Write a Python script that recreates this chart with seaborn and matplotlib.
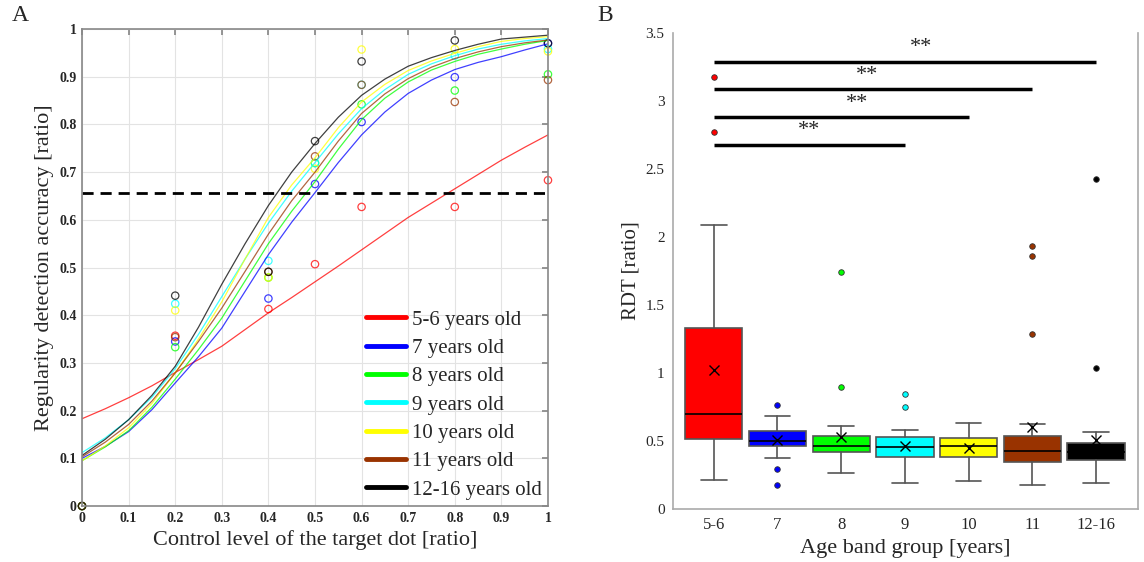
import matplotlib
matplotlib.use("Agg")
import matplotlib.pyplot as plt
from matplotlib.lines import Line2D
import pandas as pd
import seaborn as sns

# ---- data -------------------------------------------------------------
groups = ['5-6 years old', '7 years old', '8 years old', '9 years old',
          '10 years old', '11 years old', '12-16 years old']
colors = ['#ff0000', '#0000ff', '#00ff00', '#00ffff', '#ffff00',
          '#993300', '#000000']

# observed accuracy (circles)
levels = [0, 0.2, 0.4, 0.5, 0.6, 0.8, 1.0]
acc_56 = [0, 0.357, 0.413, 0.507, 0.627, 0.627, 0.683]
acc_7 = [0, 0.345, 0.435, 0.675, 0.805, 0.899, 0.970]
acc_8 = [0, 0.333, 0.479, 0.719, 0.842, 0.871, 0.905]
acc_9 = [0, 0.424, 0.514, 0.719, 0.883, 0.944, 0.958]
acc_10 = [0, 0.410, 0.479, 0.707, 0.957, 0.958, 0.953]
acc_11 = [0, 0.354, 0.491, 0.733, 0.883, 0.847, 0.893]
acc_1216 = [0, 0.441, 0.491, 0.765, 0.932, 0.976, 0.970]

# fitted curves, every 0.05
fit_x = [0, 0.05, 0.1, 0.15, 0.2, 0.25, 0.3, 0.35, 0.4, 0.45, 0.5,
         0.55, 0.6, 0.65, 0.7, 0.75, 0.8, 0.85, 0.9, 0.95, 1.0]
fit_56 = [0.183, 0.204, 0.227, 0.252, 0.280, 0.307, 0.335, 0.370, 0.405, 0.437, 0.470,
          0.503, 0.537, 0.571, 0.605, 0.635, 0.665, 0.695, 0.725, 0.752, 0.778]
fit_7 = [0.100, 0.125, 0.156, 0.202, 0.258, 0.313, 0.373, 0.450, 0.527, 0.595, 0.657,
         0.720, 0.778, 0.826, 0.865, 0.893, 0.915, 0.930, 0.942, 0.956, 0.969]
fit_8 = [0.095, 0.124, 0.158, 0.207, 0.266, 0.328, 0.394, 0.472, 0.550, 0.618, 0.680,
         0.748, 0.810, 0.855, 0.889, 0.914, 0.932, 0.947, 0.958, 0.968, 0.976]
fit_9 = [0.112, 0.143, 0.181, 0.228, 0.288, 0.360, 0.439, 0.518, 0.593, 0.660, 0.720,
         0.780, 0.833, 0.873, 0.905, 0.927, 0.944, 0.958, 0.968, 0.975, 0.980]
fit_10 = [0.095, 0.126, 0.164, 0.215, 0.279, 0.350, 0.428, 0.518, 0.605, 0.673, 0.730,
          0.793, 0.847, 0.884, 0.913, 0.933, 0.949, 0.963, 0.974, 0.980, 0.984]
fit_11 = [0.103, 0.134, 0.171, 0.220, 0.279, 0.345, 0.415, 0.492, 0.570, 0.640, 0.700,
          0.765, 0.823, 0.864, 0.896, 0.920, 0.938, 0.952, 0.963, 0.971, 0.977]
fit_1216 = [0.106, 0.140, 0.181, 0.232, 0.293, 0.375, 0.465, 0.550, 0.630, 0.700, 0.760,
            0.815, 0.861, 0.895, 0.922, 0.940, 0.955, 0.968, 0.979, 0.983, 0.987]
threshold = 0.657

# RDT box statistics
age_bands = ['5-6', '7', '8', '9', '10', '11', '12-16']
rdt_q1 = [0.515, 0.466, 0.419, 0.382, 0.385, 0.343, 0.360]
rdt_med = [0.700, 0.503, 0.466, 0.458, 0.466, 0.429, 0.420]
rdt_q3 = [1.331, 0.576, 0.539, 0.529, 0.520, 0.534, 0.488]
rdt_lo = [0.213, 0.378, 0.262, 0.189, 0.208, 0.176, 0.189]
rdt_hi = [2.090, 0.684, 0.610, 0.580, 0.630, 0.623, 0.564]
rdt_mean = [1.020, 0.507, 0.530, 0.463, 0.446, 0.605, 0.507]
rdt_out = [[3.18, 2.77], [0.765, 0.297, 0.174], [1.74, 0.90], [0.843, 0.752],
           [], [1.936, 1.863, 1.289], [2.43, 1.04]]

# significance bars: from, to, height, star x
sig_from = [0, 0, 0, 0]
sig_to = [6, 5, 4, 3]
sig_y = [3.29, 3.086, 2.885, 2.68]
sig_tx = [3.25, 2.4, 2.25, 1.5]


def main():
    sns.set_theme(style="white")
    plt.rcParams['font.family'] = ['Liberation Serif', 'DejaVu Serif']

    fig = plt.figure(figsize=(11.44, 5.62), dpi=100)
    ax1 = fig.add_axes([0.0717, 0.0996, 0.4073, 0.8488])
    ax2 = fig.add_axes([0.5883, 0.0943, 0.4065, 0.8470])

    # ---- panel A ------------------------------------------------------
    fits = [fit_56, fit_7, fit_8, fit_9, fit_10, fit_11, fit_1216]
    accs = [acc_56, acc_7, acc_8, acc_9, acc_10, acc_11, acc_1216]
    df_fit = pd.concat([pd.DataFrame({'x': fit_x, 'y': f, 'group': g})
                        for f, g in zip(fits, groups)])
    df_acc = pd.concat([pd.DataFrame({'x': levels, 'y': a, 'group': g})
                        for a, g in zip(accs, groups)])
    pal = dict(zip(groups, colors))

    sns.lineplot(data=df_fit, x='x', y='y', hue='group', palette=pal,
                 legend=False, lw=0.9, ax=ax1)
    for line in ax1.lines:
        line.set_alpha(0.75)
    sns.scatterplot(data=df_acc, x='x', y='y', hue='group', palette=pal,
                    legend=False, s=28, ax=ax1)
    coll = ax1.collections[-1]
    fc = coll.get_facecolors()
    coll.set_edgecolors(fc)
    coll.set_facecolors('none')
    coll.set_linewidth(0.9)
    coll.set_alpha(0.75)
    coll.set_clip_on(False)
    ax1.axhline(threshold, color='black', ls=(0, (4, 2.5)), lw=2)

    ax1.set_xlim(0, 1)
    ax1.set_ylim(0, 1)
    ticks = [i / 10 for i in range(11)]
    ax1.set_xticks(ticks)
    ax1.set_yticks(ticks)
    ax1.set_xticklabels(['%g' % t for t in ticks], fontweight='bold', fontsize=10)
    ax1.set_yticklabels(['%g' % t for t in ticks], fontweight='bold', fontsize=10)
    ax1.grid(True, color='#e3e3e3', lw=0.8)
    ax1.tick_params(direction='in', length=4, top=True, right=True,
                    color='#888888', pad=4)
    for sp in ax1.spines.values():
        sp.set_color('#888888')
        sp.set_linewidth(1.2)
    ax1.set_xlabel('Control level of the target dot [ratio]', fontsize=16)
    ax1.set_ylabel('Regularity detection accuracy [ratio]', fontsize=16)

    handles = [Line2D([], [], color=c, lw=3.5) for c in colors]
    ax1.legend(handles, groups, loc='lower right', frameon=False,
               fontsize=15, handlelength=1.9, handletextpad=0.3,
               labelspacing=0.42, borderaxespad=0.0, borderpad=0.3)

    # ---- panel B ------------------------------------------------------
    stats = []
    for i, lab in enumerate(age_bands):
        stats.append({'label': lab, 'q1': rdt_q1[i], 'med': rdt_med[i],
                      'q3': rdt_q3[i], 'whislo': rdt_lo[i],
                      'whishi': rdt_hi[i], 'mean': rdt_mean[i],
                      'fliers': rdt_out[i]})
    bp = ax2.bxp(stats, positions=range(len(age_bands)), widths=0.9,
                 patch_artist=True, showmeans=True, capwidths=0.4,
                 boxprops=dict(edgecolor='#555555', lw=1.2),
                 medianprops=dict(color='black', lw=1.2),
                 whiskerprops=dict(color='#555555', lw=1.2),
                 capprops=dict(color='#555555', lw=1.2),
                 meanprops=dict(marker='x', markeredgecolor='black',
                                markersize=7, markeredgewidth=1.0),
                 flierprops=dict(marker='o', markersize=4,
                                 markeredgecolor='#333333',
                                 markeredgewidth=0.6))
    for box, flier, c in zip(bp['boxes'], bp['fliers'], colors):
        box.set_facecolor(c)
        flier.set_markerfacecolor(c)

    for a, b, y, tx in zip(sig_from, sig_to, sig_y, sig_tx):
        ax2.plot([a, b], [y, y], color='black', lw=2.5, solid_capstyle='butt')
        ax2.text(tx, y + 0.1, '**', ha='center', va='center', fontsize=16)

    ax2.set_xlim(-0.64, 6.66)
    ax2.set_ylim(0, 3.5)
    ax2.set_yticks([i * 0.5 for i in range(8)])
    ax2.set_yticklabels(['%g' % (i * 0.5) for i in range(8)], fontsize=11)
    ax2.set_xticklabels(age_bands, fontsize=12)
    ax2.tick_params(length=0, pad=6)
    for sp in ax2.spines.values():
        sp.set_color('#aaaaaa')
        sp.set_linewidth(1.2)
    ax2.spines['top'].set_visible(False)
    ax2.set_xlabel('Age band group [years]', fontsize=16)
    ax2.set_ylabel('RDT [ratio]', fontsize=15)

    fig.text(0.010, 0.962, 'A', fontsize=17)
    fig.text(0.522, 0.962, 'B', fontsize=17)

    plt.savefig('out.png', dpi=100)
    plt.close()


if __name__ == '__main__':
    main()
